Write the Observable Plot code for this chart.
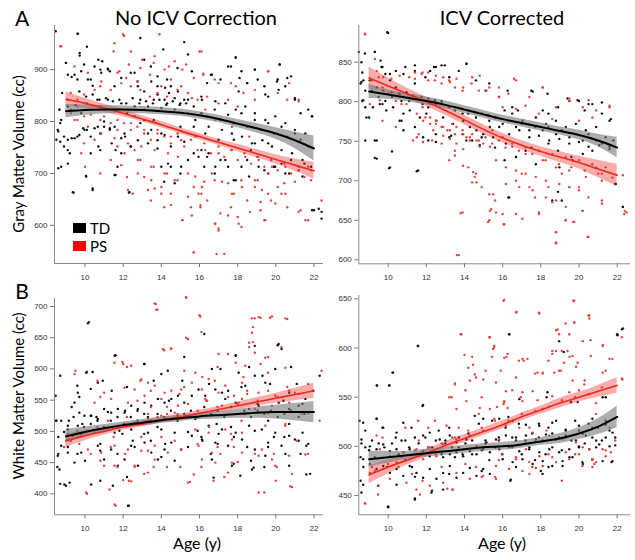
<!DOCTYPE html>
<html><head><meta charset="utf-8">
<script src="https://cdn.jsdelivr.net/npm/d3@7"></script>
<script src="https://cdn.jsdelivr.net/npm/@observablehq/plot@0.6"></script>
<style>
body{margin:0;background:#fff}
#wrap{position:relative;width:635px;height:560px;overflow:hidden;font-family:Lato,"Open Sans",sans-serif;color:#000}
.abs{position:absolute;white-space:nowrap;line-height:1}
.plot{position:absolute}
.rot{transform:translate(-50%,-50%) rotate(-90deg)}
.ctr{transform:translate(-50%,-50%)}
</style></head>
<body><div id="wrap"></div>
<script>
const xTicks = [10,12,14,16,18,20,22];
const gmRawTicks = [600,700,800,900];
const gmIcvTicks = [600,650,700,750,800,850];
const wmRawTicks = [400,450,500,550,600,650,700];
const wmIcvTicks = [450,500,550,600,650];
const fitAges = [9,10,11,12,13,14,15,16,17,18,19,20,21,22];

// Fitted curves and half-widths of confidence bands
const gmRawTDFit  = [820,822,823,823,822,820,817,812,805,796,787,777,764,748];
const gmRawTDHalf = [13,10,8,7,7,7,7,7,7,8,9,11,16,24];
const gmRawPSFit  = [843,835,826,816,805,794,782,771,760,749,738,727,716,705];
const gmRawPSHalf = [14,10,8,7,6,6,6,6,6,7,8,9,12,16];
const gmIcvTDFit  = [813,809,805,801,796,790,784,778,773,768,763,758,751,742];
const gmIcvTDHalf = [9,6,5,5,5,5,5,5,5,5,5,6,8,13];
const gmIcvPSFit  = [830,820,810,800,789,777,765,754,745,737,730,723,715,707];
const gmIcvPSHalf = [14,10,7,6,6,6,6,6,6,6,7,8,11,14];
const wmRawTDFit  = [492,499,505,510,514,518,521,524,526,528,530,531,531,531];
const wmRawTDHalf = [11,8,6,5,5,5,5,5,6,7,9,11,14,17];
const wmRawPSFit  = [485,493,500,507,512,518,523,529,535,541,547,553,559,565];
const wmRawPSHalf = [11,8,6,5,5,5,5,5,5,6,7,8,10,12];
const wmIcvTDFit  = [487,489,491,493,495,497,499,500,502,505,508,513,520,530];
const wmIcvTDHalf = [8,6,4,4,4,4,4,4,4,4,5,6,8,11];
const wmIcvPSFit  = [471,479,486,493,501,508,515,522,530,537,544,550,556,562];
const wmIcvPSHalf = [9,7,5,4,4,4,4,4,4,4,5,5,6,8];

// Individual subjects [age, cc]
const gmRawTD = [[8.46,974],[9.63,969],[9.72,932],[9.72,927],[9.0,913],[9.1,890],[9.3,886],[9.6,881],[10.1,944],[9.95,910],[10.3,881],[10.4,869],[10.7,919],[10.8,900],[10.9,916],[11.2,902],[11.3,897],[8.8,855],[8.65,823],[8.7,797],[8.6,781],[8.5,765],[8.7,761],[8.9,752],[9.1,719],[8.6,710],[9.1,765],[9.3,768],[9.6,771],[9.9,787],[10.1,784],[10.5,787],[10.8,777],[11.0,790],[10.3,739],[10.8,745],[10.7,752],[9.4,663],[10.05,695],[10.4,668],[11.3,787],[11.4,758],[11.6,745],[11.7,713],[11.6,697],[12.3,663],[11.9,739],[12.4,752],[12.1,771],[12.6,810],[12.9,797],[13.1,823],[13.3,777],[13.6,803],[13.8,748],[14.0,713],[14.15,684],[14.5,713],[14.7,681],[15.0,700],[15.4,726],[15.7,739],[16.1,745],[16.25,713],[16.4,732],[16.8,700],[17.1,726],[17.5,713],[17.8,687],[18.2,713],[18.5,726],[18.7,745],[19.05,732],[19.4,706],[19.6,758],[19.9,713],[20.3,719],[20.5,700],[20.8,726],[21.2,706],[21.5,719],[21.85,713],[22.0,629],[22.4,626],[12.9,961],[14.1,939],[15.2,953],[15.4,929],[14.85,903],[13.45,906],[13.1,919],[12.6,894],[12.75,877],[13.8,887],[14.3,881],[13.8,868],[14.2,865],[14.4,855],[14.7,845],[15.4,842],[16.1,848],[16.4,874],[16.6,890],[17.1,881],[17.65,906],[17.9,923],[18.2,897],[18.5,874],[18.9,900],[19.05,881],[19.4,868],[19.6,848],[20.1,881],[20.2,910],[20.5,868],[20.8,887],[21.0,845],[21.3,816],[21.9,810],[21.7,823],[9.1,829],[9.25,823],[9.5,832],[9.8,816],[10.1,835],[10.4,823],[10.65,842],[10.8,829],[11.2,842],[11.5,823],[11.9,835],[12.2,816],[12.6,829],[12.9,842],[13.3,829],[13.6,842],[14.0,826],[14.3,835],[14.7,823],[15.0,835],[15.4,816],[15.7,829],[16.1,816],[16.4,810],[16.8,823],[17.1,803],[17.5,813],[17.8,797],[18.2,816],[18.5,790],[18.9,803],[19.2,784],[19.6,797],[19.9,777],[20.3,790],[20.6,771],[21.0,777],[21.3,765],[21.7,752],[16.3,777],[17.0,765],[17.8,765],[18.9,758],[15.7,790],[15.0,790],[14.0,777],[13.3,758],
[9.6,969],[8.66,823],[8.75,803],[8.57,784],[8.9,771],[9.1,745],[9.2,739],[9.45,768],[9.7,774],[9.97,784],[10.3,771],[10.67,790],[11.0,800],[11.3,784],[11.55,790],[11.9,768],[12.07,777],[12.4,752],[12.77,764],[13.1,803],[13.47,784],[13.8,764],[14.17,774],[14.5,752],[14.87,771],[15.2,761],[9.0,913],[9.45,890],[9.8,897],[10.15,881],[10.5,906],[10.85,894],[11.2,900],[11.55,868],[11.9,884],[12.4,894],[12.77,868],[13.1,858],[13.47,877],[13.8,852],[14.17,842],[14.5,868],[14.87,858],[15.2,842],[9.7,858],[10.06,848],[10.4,852],[10.76,842],[11.1,845],[11.46,839],[11.8,842],[12.16,835],[12.5,845],[12.85,835],[13.2,839],[13.56,835],[13.9,842],[14.26,832],[14.6,839],[14.96,832],[15.3,835],[9.36,664],[10.06,694],[10.4,671],[11.55,697],[12.33,664],[14.35,719],[15.04,713],[8.75,713],
[17.9,924],[20.2,910],[15.6,897],[16.65,890],[17.5,906],[18.1,884],[18.9,900],[20.06,877],[20.6,884],[18.05,858],[18.5,874],[19.45,852],[20.15,861],[21.0,842],[21.9,810],[16.13,842],[16.83,839],[17.35,835],[17.9,823],[18.4,829],[18.9,816],[19.45,803],[19.97,810],[20.5,797],[21.0,784],[21.55,777],[15.78,803],[16.48,790],[17.18,784],[17.7,777],[18.23,771],[18.75,758],[19.3,764],[19.8,752],[20.3,745],[20.85,739],[21.4,726],[15.95,732],[16.48,739],[16.83,713],[17.35,726],[17.9,687],[18.6,694],[19.1,713],[19.6,700],[19.97,713],[20.7,700],[21.4,694],[21.9,629],[22.25,632],[22.4,613]];
const gmRawPS = [[8.7,945],[12.05,965],[13.9,968],[11.5,935],[16.1,935],[11.8,897],[12.3,910],[12.9,903],[13.6,913],[14.4,906],[15.1,900],[15.7,884],[16.2,890],[16.8,881],[17.65,874],[18.3,855],[18.9,842],[19.6,897],[20.1,855],[20.6,842],[21.2,842],[9.25,855],[9.6,842],[9.95,852],[10.5,861],[10.8,868],[11.35,861],[11.9,874],[12.4,868],[12.9,861],[13.4,848],[13.8,855],[14.3,848],[14.85,861],[15.4,855],[15.9,842],[16.4,848],[17.0,835],[17.5,842],[18.0,829],[9.25,816],[9.6,803],[9.95,810],[10.3,813],[10.8,803],[11.35,797],[11.7,784],[12.05,797],[12.4,784],[12.75,790],[13.1,777],[13.45,765],[13.8,784],[14.15,771],[14.5,758],[14.85,777],[15.2,752],[15.55,765],[15.9,745],[16.25,758],[16.6,739],[17.0,752],[17.3,732],[17.65,745],[18.0,726],[18.35,739],[18.7,719],[19.05,732],[19.4,713],[19.75,726],[20.1,706],[20.45,719],[20.8,700],[21.2,713],[21.5,693],[21.85,706],[9.8,739],[10.0,713],[10.8,700],[11.35,726],[11.9,716],[12.2,693],[12.5,661],[13.1,693],[13.3,668],[13.45,648],[14.0,674],[14.15,635],[14.5,661],[14.85,687],[15.1,610],[15.4,655],[15.55,635],[15.7,674],[16.05,635],[16.1,661],[16.25,684],[16.4,648],[16.8,603],[17.0,590],[17.1,623],[15.7,548],[17.3,545],[17.65,635],[17.8,661],[18.0,616],[18.2,597],[18.5,648],[18.9,674],[19.2,629],[19.4,610],[19.75,648],[20.1,674],[20.3,661],[20.6,635],[21.0,684],[21.3,629],[21.7,610],[21.85,687],[22.4,648],[16.8,687],[17.5,681],[18.2,687],[19.05,687],[19.6,700],[20.45,681],[15.4,700],[14.3,700],[13.6,713],[12.9,726],[12.6,745],[11.7,752],[10.5,765],[9.95,758],
[8.75,945],[12.0,968],[11.55,951],[12.4,935],[13.0,919],[13.65,926],[14.17,900],[14.7,916],[15.3,910],[9.45,906],[10.15,894],[10.85,877],[11.7,894],[12.16,884],[12.77,877],[13.4,890],[14.0,868],[14.5,881],[15.04,868],[9.1,842],[9.6,829],[10.3,823],[11.0,810],[11.7,803],[12.4,797],[13.1,784],[13.8,777],[14.5,771],[15.04,764],[9.45,803],[10.15,790],[10.85,777],[11.55,768],[12.25,758],[12.95,752],[13.65,745],[14.35,739],[14.87,732],[12.07,739],[12.77,726],[13.47,713],[14.17,700],[14.7,687],[13.47,687],[12.77,700],[14.0,661],[14.5,639],[15.1,610],[13.65,671],[12.25,668],
[16.0,935],[16.2,892],[15.6,845],[17.0,874],[17.9,868],[18.9,861],[19.6,897],[20.7,874],[21.2,839],[16.3,823],[16.83,803],[17.7,790],[18.6,771],[15.78,771],[16.3,745],[17.0,739],[17.7,745],[18.4,732],[19.1,726],[19.8,713],[20.5,713],[21.2,706],[21.7,713],[15.78,694],[16.13,674],[16.65,700],[17.18,684],[17.7,661],[18.23,674],[18.9,687],[19.27,668],[19.6,661],[19.97,642],[20.5,661],[21.2,626],[21.55,610],[15.95,661],[16.05,639],[15.6,619],[16.83,603],[17.0,594],[17.5,619],[18.05,603],[18.65,626],[19.2,645],[19.45,610],[15.7,548],[16.9,545]];
const gmIcvTD = [[8.46,863],[8.6,850],[8.64,837],[8.7,827],[8.55,823],[8.8,814],[8.64,801],[8.8,793],[9.0,780],[9.95,888],[9.3,863],[9.6,852],[9.7,844],[9.85,835],[10.1,827],[10.4,818],[9.15,814],[9.5,806],[9.85,801],[10.2,806],[10.55,810],[10.7,801],[11.1,801],[11.4,806],[11.8,797],[12.1,793],[12.5,797],[12.8,801],[13.2,793],[13.5,789],[13.9,785],[14.2,785],[14.6,780],[14.9,785],[15.3,776],[15.6,780],[16.0,772],[16.3,776],[16.7,768],[17.0,772],[17.4,764],[17.7,768],[18.1,764],[18.4,768],[18.8,759],[19.1,764],[19.5,755],[19.8,759],[20.2,751],[20.5,759],[20.9,751],[21.2,747],[21.6,743],[21.8,751],[10.9,844],[11.4,839],[11.4,823],[11.95,831],[12.4,844],[12.8,846],[13.2,831],[13.7,839],[14.1,848],[14.6,827],[15.1,814],[15.3,823],[15.8,806],[16.1,789],[16.5,793],[16.8,789],[17.5,814],[18.1,789],[18.4,785],[18.9,793],[19.5,801],[20.0,801],[20.3,789],[20.7,797],[21.2,785],[21.6,776],[12.5,759],[13.2,755],[13.9,759],[14.4,751],[14.9,755],[15.6,742],[16.1,726],[16.7,730],[16.3,679],[17.5,742],[18.4,747],[18.9,738],[19.6,730],[20.2,734],[20.7,738],[21.9,696],[22.3,667],[8.8,751],[9.3,751],[9.3,729],[10.2,737],[10.05,716],[11.5,712],[12.1,751],[10.7,776],[11.4,768],[9.7,797],[19.1,675],
[10.0,887],[8.78,861],[9.3,863],[9.65,844],[10.09,835],[10.4,839],[10.8,835],[11.4,846],[12.2,839],[12.5,844],[12.97,846],[14.1,848],[8.6,825],[9.04,827],[9.4,818],[9.74,814],[10.17,812],[10.6,810],[10.96,812],[11.3,808],[11.75,806],[12.1,804],[12.45,802],[12.8,800],[13.14,795],[13.5,793],[13.84,791],[14.2,789],[14.54,787],[14.9,785],[15.24,783],[8.69,802],[9.2,793],[9.56,797],[9.9,789],[10.26,793],[10.8,785],[11.13,789],[11.66,780],[12.0,785],[12.53,776],[12.88,780],[13.4,772],[13.93,776],[14.28,768],[14.63,764],[14.98,759],[15.33,768],[8.86,780],[9.4,751],[9.4,728],[10.09,717],[10.6,776],[10.8,764],[11.57,713],[11.83,755],[12.5,749],[13.3,757],[14.1,751],[14.8,745],[15.5,755],
[16.26,814],[17.57,813],[18.35,810],[19.4,804],[19.93,802],[20.5,797],[21.2,799],[21.67,778],[15.65,780],[16.5,785],[17.04,776],[17.74,780],[18.27,772],[18.79,776],[19.31,768],[19.84,772],[20.36,764],[20.9,768],[21.4,755],[15.82,768],[16.34,759],[16.87,764],[17.4,755],[17.9,757],[18.44,751],[18.97,753],[19.49,747],[20.0,749],[20.5,743],[21.06,745],[21.6,740],[16.17,747],[16.7,730],[17.2,738],[17.74,721],[18.97,717],[19.66,726],[16.34,679],[18.6,675],[18.9,686],[21.93,696],[22.3,667]];
const gmIcvPS = [[8.8,886],[9.3,854],[9.5,831],[9.15,827],[9.7,818],[10.0,810],[10.4,801],[10.7,797],[11.1,831],[11.4,837],[11.8,837],[12.1,827],[12.5,833],[12.8,823],[13.2,827],[13.5,818],[13.9,814],[14.4,831],[14.75,814],[15.3,818],[15.8,818],[16.3,810],[16.7,827],[17.4,806],[18.1,818],[18.8,793],[19.5,801],[20.2,793],[20.9,789],[21.6,793],[11.8,793],[11.95,780],[12.2,772],[12.5,776],[12.8,768],[13.1,764],[13.35,772],[13.5,759],[13.9,764],[14.1,755],[14.4,759],[14.75,751],[15.1,755],[15.45,747],[15.8,751],[16.15,742],[16.5,747],[16.85,738],[17.2,742],[17.55,734],[17.9,738],[18.25,726],[18.6,734],[18.95,721],[19.3,730],[19.6,717],[20.0,726],[20.3,713],[20.7,721],[21.0,709],[21.4,717],[21.75,704],[14.2,717],[14.6,709],[14.4,698],[14.9,692],[15.3,683],[15.4,664],[15.3,650],[15.6,675],[16.0,658],[16.05,645],[16.7,700],[17.0,709],[17.4,692],[17.7,679],[17.9,658],[18.4,692],[18.8,675],[18.8,635],[18.8,621],[19.1,709],[19.5,692],[19.3,650],[19.7,648],[20.0,692],[20.2,662],[20.5,629],[20.9,717],[21.2,675],[21.2,709],[13.9,660],[13.7,606],[12.8,747],[13.5,738],[13.2,726],[12.3,751],[11.3,751],[11.6,759],[10.4,768],[9.7,776],[22.3,707],[22.4,662],[22.5,660],
[8.78,885],[9.4,839],[9.74,831],[10.17,829],[10.6,833],[11.4,829],[11.75,835],[12.1,837],[12.45,827],[12.88,831],[13.23,825],[13.58,829],[13.93,818],[14.37,823],[14.8,833],[15.15,814],[9.04,797],[9.56,802],[10.96,797],[11.5,785],[11.83,776],[12.2,780],[12.5,772],[12.88,768],[13.23,764],[13.58,768],[13.93,759],[14.28,755],[14.63,751],[14.98,747],[15.33,743],[11.5,755],[11.83,749],[12.36,764],[12.88,757],[13.23,753],[13.58,747],[13.93,740],[14.28,751],[14.8,743],[13.5,732],[13.93,719],[14.45,711],[14.54,705],[14.63,698],[15.5,683],[15.33,662],[15.24,648],[13.8,659],[13.6,606],
[16.6,829],[18.1,818],[19.49,804],[20.5,802],[21.6,795],[15.82,806],[16.0,793],[16.7,791],[17.2,795],[17.9,785],[18.6,778],[20.0,776],[20.7,780],[15.47,764],[16.0,755],[16.5,743],[17.2,734],[18.1,726],[18.8,717],[19.49,713],[20.36,705],[21.2,700],[15.65,726],[16.17,717],[16.7,713],[17.2,709],[17.74,705],[18.27,700],[18.97,696],[19.49,692],[20.0,688],[20.5,679],[16.17,696],[16.87,692],[17.57,688],[18.27,679],[18.6,673],[19.31,667],[20.18,662],[15.65,660],[16.08,645],[16.7,658],[17.04,652],[17.9,660],[18.79,635],[18.79,622],[19.31,650],[19.75,648],[20.45,629],[21.2,671],[22.37,658]];
const wmRawTD = [[8.46,557],[8.7,589],[8.5,517],[8.6,491],[8.6,464],[8.55,443],[8.7,416],[9.0,413],[9.1,475],[8.9,499],[9.15,517],[9.3,539],[9.6,573],[9.7,555],[9.86,512],[9.8,496],[9.6,464],[10.0,453],[10.1,595],[10.2,675],[10.3,525],[10.6,523],[10.8,480],[10.8,421],[11.2,531],[11.4,565],[11.6,622],[11.8,501],[11.96,496],[12.1,533],[12.2,571],[12.3,381],[12.2,427],[12.5,485],[12.75,533],[13.1,608],[13.1,496],[13.3,523],[13.6,581],[13.8,507],[14.0,592],[14.2,480],[14.4,549],[14.7,453],[14.85,525],[15.1,581],[15.2,619],[15.4,499],[15.6,557],[15.9,501],[16.15,485],[16.25,656],[16.5,576],[16.6,464],[16.9,512],[17.0,496],[17.1,600],[17.5,565],[17.65,507],[17.8,448],[17.9,622],[18.2,571],[18.35,528],[18.5,475],[18.6,603],[18.9,501],[19.05,544],[19.3,589],[19.4,443],[19.6,517],[19.7,576],[19.9,491],[20.1,638],[20.4,549],[20.5,464],[20.7,512],[20.8,603],[21.1,576],[21.2,485],[21.4,544],[21.7,480],[21.8,432],[21.95,565],[22.3,589],[9.1,509],[9.4,523],[9.95,507],[10.3,512],[10.65,517],[11.0,507],[11.35,517],[11.7,523],[12.05,512],[12.4,523],[12.75,517],[13.1,528],[13.45,517],[13.8,528],[14.15,523],[14.5,533],[14.85,517],[15.2,528],[15.55,533],[15.9,523],[16.25,539],[16.6,528],[16.95,533],[17.3,523],[17.65,539],[18.0,528],[18.35,533],[18.7,523],[19.05,533],[19.4,528],[19.75,533],[20.1,523],[20.45,528],[20.8,533],[21.2,523],[21.5,528],[10.8,469],[11.7,464],[12.6,475],[13.45,485],[14.0,459],[15.4,475],[16.1,491],[16.95,480],[17.8,491],[18.7,453],[19.6,475],[20.45,491],[21.3,464],
[10.15,673],[8.49,517],[8.75,517],[8.57,461],[8.66,439],[8.92,415],[9.19,418],[9.1,503],[9.36,493],[9.62,509],[9.7,530],[9.62,562],[10.06,594],[10.4,595],[10.67,578],[10.93,581],[10.3,568],[9.45,546],[9.97,525],[10.32,525],[10.67,520],[11.0,536],[11.37,530],[11.72,536],[12.07,530],[12.42,541],[12.77,536],[13.12,546],[13.47,541],[13.82,552],[14.17,546],[14.52,552],[14.87,557],[15.2,546],[11.55,621],[13.12,608],[14.34,597],[8.75,477],[9.1,466],[9.45,450],[9.8,466],[10.32,415],[10.67,477],[11.0,455],[11.37,471],[11.72,445],[12.07,455],[12.42,477],[12.77,445],[13.12,482],[13.47,466],[13.82,455],[14.17,471],[14.52,482],[15.04,471],[11.46,413],[12.25,381],[11.55,498],[12.42,503],[13.3,498],[14.0,503],[14.7,498],
[20.15,640],[20.3,632],[17.9,621],[18.9,637],[18.05,594],[18.9,589],[19.97,600],[16.65,600],[17.18,562],[18.4,573],[19.45,578],[20.7,562],[21.55,552],[15.95,567],[16.3,557],[16.83,567],[17.35,552],[17.9,546],[18.6,536],[19.1,541],[19.6,530],[20.15,546],[20.7,536],[21.2,541],[21.7,530],[15.78,520],[16.48,509],[17.18,503],[17.9,498],[18.6,509],[19.27,503],[19.97,498],[20.7,493],[21.4,498],[15.6,493],[16.13,487],[16.83,482],[17.5,477],[18.23,487],[18.9,471],[19.6,482],[20.3,477],[21.0,487],[21.6,477],[16.65,455],[17.7,445],[18.75,439],[19.45,461],[20.7,445],[21.6,431],[18.14,429],[16.74,426],[18.84,442]];
const wmRawPS = [[8.9,475],[9.25,485],[9.5,597],[9.7,480],[10.1,400],[10.3,464],[10.65,581],[10.8,555],[11.2,507],[11.35,475],[11.5,491],[11.6,381],[11.7,443],[11.96,611],[12.1,464],[12.3,421],[12.5,512],[12.75,549],[12.95,491],[13.1,432],[13.3,469],[13.45,539],[13.6,443],[13.7,704],[13.8,695],[14.0,491],[14.15,630],[14.3,528],[14.5,632],[14.7,485],[14.95,560],[15.0,443],[15.2,597],[15.3,715],[15.4,648],[15.5,419],[15.6,523],[15.9,480],[16.0,686],[16.1,659],[16.15,587],[16.35,549],[16.5,507],[16.8,581],[16.95,475],[17.1,464],[17.3,427],[17.5,624],[17.65,496],[17.8,557],[18.0,451],[18.2,517],[18.3,587],[18.5,565],[18.6,635],[18.8,643],[18.8,667],[18.9,681],[19.1,683],[19.2,608],[19.4,402],[19.6,619],[19.8,684],[19.9,464],[20.05,443],[20.3,635],[20.5,512],[20.6,680],[20.7,565],[20.85,432],[20.85,411],[21.1,485],[21.35,528],[21.7,464],[22.3,517],[22.4,597],[9.1,496],[9.6,501],[10.1,501],[10.65,507],[11.2,517],[11.7,507],[12.2,523],[12.75,512],[13.3,528],[13.8,523],[14.3,539],[14.85,528],[15.4,544],[15.9,533],[16.4,549],[16.95,539],[17.5,555],[18.0,544],[18.5,560],[19.05,549],[19.6,565],[20.1,555],[20.6,571],[21.2,560],[21.7,576],[10.8,453],[12.6,443],[14.3,443],[16.1,443],[17.8,475],[18.9,464],[20.0,421],[13.45,565],[15.2,571],[16.95,603],[12.9,581],[12.2,603],
[13.65,705],[13.73,695],[15.3,714],[15.3,650],[14.08,632],[14.52,633],[11.55,610],[12.42,605],[12.0,608],[9.45,592],[11.0,562],[12.07,570],[12.6,567],[12.95,583],[13.3,578],[13.65,573],[14.17,562],[14.52,565],[15.04,567],[10.5,546],[11.37,552],[12.25,546],[13.12,557],[14.0,552],[14.87,541],[9.1,487],[9.8,493],[10.5,498],[11.2,503],[11.9,509],[12.6,514],[13.3,520],[14.0,525],[14.7,530],[10.15,471],[10.85,466],[11.55,477],[12.25,471],[12.95,469],[13.65,477],[14.34,466],[15.04,471],[11.0,445],[11.55,445],[12.6,445],[13.3,434],[13.65,455],[10.06,402],[11.28,407],[11.55,383],[12.0,422],[12.42,420],[15.4,418],
[16.04,684],[18.75,681],[19.2,682],[19.7,682],[20.5,681],[18.75,658],[18.6,642],[18.9,626],[19.45,618],[17.0,624],[17.9,610],[18.4,605],[15.78,594],[16.48,584],[17.35,573],[18.23,578],[19.6,594],[20.5,602],[15.6,578],[16.13,567],[17.0,562],[18.23,552],[19.1,562],[19.97,557],[21.0,562],[16.3,552],[17.18,541],[18.05,546],[18.9,536],[19.8,541],[20.7,546],[15.78,503],[16.48,498],[17.35,503],[18.23,498],[19.45,509],[20.5,509],[15.95,477],[16.65,466],[17.7,487],[18.23,466],[19.27,471],[19.8,455],[16.13,455],[16.83,450],[17.7,450],[19.1,461],[19.97,445],[20.7,461],[15.7,431],[16.74,421],[17.5,434],[19.1,402],[20.76,412],[21.55,463]];
const wmIcvTD = [[8.5,526],[8.6,503],[8.55,489],[8.7,479],[8.55,465],[8.6,453],[8.8,516],[9.0,496],[9.15,506],[9.3,489],[9.4,528],[9.4,562],[9.7,519],[9.8,499],[9.95,479],[10.0,438],[10.07,562],[10.25,575],[10.4,509],[10.55,492],[10.7,506],[10.9,486],[11.1,499],[11.25,479],[11.4,509],[11.4,447],[11.55,602],[11.8,541],[11.8,492],[11.95,509],[12.1,499],[12.3,455],[12.5,506],[12.65,516],[12.8,492],[13.0,506],[13.2,519],[13.35,499],[13.5,489],[13.7,509],[13.9,492],[14.05,503],[14.2,513],[14.4,492],[14.6,499],[14.75,523],[14.9,496],[15.1,506],[15.3,486],[15.45,526],[15.6,499],[15.8,509],[15.97,492],[16.15,519],[16.3,530],[16.35,614],[16.4,465],[16.5,499],[16.7,509],[16.85,523],[17.0,492],[17.2,506],[17.4,499],[17.55,513],[17.7,486],[17.9,523],[18.1,506],[18.25,492],[18.3,550],[18.4,519],[18.6,499],[18.8,526],[18.95,509],[19.1,496],[19.2,596],[19.3,516],[19.5,489],[19.6,506],[19.8,526],[20.0,499],[20.2,513],[20.3,503],[20.5,523],[20.7,509],[20.9,499],[21.0,519],[21.2,506],[21.4,550],[21.6,516],[21.7,484],[21.9,509],[22.0,614],[22.25,619],[21.9,501],[8.8,499],[9.5,503],[10.2,503],[10.9,506],[11.6,503],[12.3,499],[13.0,503],[13.7,499],[14.4,506],[15.1,503],[15.8,506],[16.5,509],[17.2,503],[17.9,509],[18.6,513],[19.3,509],[20.0,516],[20.7,519],[21.4,526],[11.4,469],[13.2,472],[14.9,475],[16.7,479],[18.4,479],[20.2,482],
[11.57,602],[10.23,575],[9.42,562],[10.05,562],[11.83,542],[8.69,524],[9.39,528],[9.74,519],[10.44,514],[10.79,524],[11.22,519],[11.83,511],[12.18,514],[12.7,507],[13.23,511],[13.58,504],[14.1,507],[14.63,500],[15.15,504],[8.6,507],[9.04,500],[9.39,497],[9.74,502],[10.09,495],[10.44,497],[10.79,494],[11.13,497],[11.48,492],[11.83,495],[12.18,490],[12.53,494],[12.88,489],[13.23,492],[13.58,494],[13.93,490],[14.28,495],[14.63,492],[14.98,497],[15.33,494],[8.69,487],[9.04,482],[9.39,477],[9.74,480],[10.09,473],[10.44,477],[10.79,470],[11.13,480],[11.48,473],[11.83,468],[12.18,477],[12.53,467],[12.88,473],[13.23,480],[13.58,468],[13.93,473],[14.28,478],[14.63,470],[14.98,477],[15.33,472],[8.69,461],[9.47,460],[10.44,461],[11.4,446],[12.27,453],[12.88,456],[10.0,439],[14.54,531],[14.98,528],
[16.34,614],[18.96,607],[22.02,613],[22.3,620],[18.35,555],[19.58,545],[19.93,545],[21.24,550],[16.87,548],[15.82,528],[16.52,526],[17.22,522],[17.92,521],[18.6,524],[19.31,517],[20.0,521],[20.7,528],[21.4,522],[21.76,514],[15.65,507],[16.17,511],[16.7,506],[17.22,511],[17.74,507],[18.27,512],[18.8,507],[19.31,511],[19.84,506],[20.36,511],[20.9,506],[21.4,509],[15.82,497],[16.34,499],[16.87,495],[17.39,497],[17.92,494],[18.44,497],[18.96,494],[19.49,497],[20.0,500],[20.54,497],[21.06,502],[21.6,500],[16.0,487],[16.52,484],[17.04,487],[17.57,482],[18.1,485],[18.6,480],[19.14,485],[19.66,489],[20.18,484],[20.7,487],[21.24,485],[21.76,485],[18.0,475],[18.09,472],[19.14,480],[16.43,466]];
const wmIcvPS = [[8.8,442],[9.5,460],[9.15,479],[9.7,509],[10.2,489],[10.55,479],[10.9,519],[11.25,472],[11.6,506],[11.8,465],[12.1,519],[12.5,492],[12.8,479],[13.1,457],[13.35,456],[13.2,550],[13.35,509],[13.5,564],[13.7,519],[13.8,614],[14.05,557],[14.2,580],[14.4,591],[14.6,570],[14.75,533],[14.9,550],[15.1,577],[15.3,611],[15.45,591],[15.55,601],[15.7,540],[15.9,577],[16.05,648],[16.05,543],[16.2,591],[16.5,557],[16.7,636],[16.85,587],[16.95,550],[17.1,587],[17.4,519],[17.7,574],[17.9,636],[18.1,574],[18.3,516],[18.4,587],[18.6,597],[18.8,618],[18.95,577],[19.1,597],[19.3,625],[19.5,591],[19.7,648],[19.75,626],[19.85,581],[20.0,557],[20.2,499],[20.3,567],[20.5,633],[20.6,608],[20.7,486],[20.9,533],[21.25,603],[21.4,577],[21.6,519],[21.75,589],[22.25,611],[22.25,569],[9.3,475],[10.0,482],[10.7,489],[11.4,496],[12.1,499],[12.8,503],[13.5,509],[14.2,516],[14.9,519],[15.6,526],[16.3,526],[17.0,533],[17.7,536],[18.4,540],[19.1,547],[19.8,550],[20.5,553],[21.2,560],[14.05,482],[14.9,469],[15.8,486],[16.7,489],[17.55,479],[18.4,492],[19.1,465],[19.8,492],[20.7,479],[21.4,496],[21.9,506],[15.6,469],[14.6,479],[17.4,472],
[13.84,614],[14.0,593],[15.33,611],[15.5,599],[14.45,583],[14.54,573],[13.5,563],[14.28,567],[14.98,568],[13.32,550],[13.58,538],[14.1,546],[14.8,539],[15.33,538],[11.57,526],[12.45,526],[13.06,521],[9.39,511],[9.56,497],[10.09,490],[10.79,494],[11.48,497],[12.18,499],[12.88,502],[13.58,507],[14.28,511],[14.98,516],[9.04,473],[9.74,477],[10.44,484],[11.13,487],[11.83,487],[12.53,490],[13.23,495],[13.93,497],[14.63,500],[10.09,467],[10.96,463],[11.48,456],[12.18,460],[12.88,463],[13.58,473],[14.28,467],[14.98,470],[9.47,451],[11.66,451],[8.78,442],[13.4,456],
[16.08,649],[19.75,648],[16.73,637],[17.92,635],[20.54,633],[20.54,630],[19.75,626],[18.88,619],[18.96,614],[19.49,614],[20.2,607],[21.24,602],[15.56,602],[18.79,597],[19.4,597],[19.66,592],[18.6,594],[16.26,594],[16.08,590],[17.04,589],[17.3,589],[19.22,585],[19.93,585],[20.62,592],[21.6,589],[17.83,575],[18.1,575],[18.7,575],[19.05,577],[21.24,575],[22.28,568],[16.7,570],[19.66,567],[15.65,565],[20.28,563],[16.17,556],[17.04,555],[17.57,556],[18.6,551],[19.49,555],[16.08,546],[16.08,545],[17.04,546],[17.83,547],[16.26,539],[18.09,538],[20.9,544],[15.56,528],[16.17,521],[16.87,519],[17.57,514],[18.44,511],[19.14,507],[19.84,504],[20.54,497],[21.24,497],[21.67,494],[15.82,507],[16.52,500],[17.22,497],[17.92,490],[18.6,489],[19.31,494],[20.0,492],[20.7,487],[21.4,490],[16.0,492],[16.7,487],[17.39,484],[18.1,480],[18.8,484],[19.49,487],[20.18,480],[20.9,484],[15.65,480],[16.34,477],[17.04,475],[17.74,478],[20.8,482],[15.65,467]];

const wrap = document.getElementById("wrap");

function rows(fit, half) {
  return fitAges.map((a, i) => ({age: a, fit: fit[i], lo: fit[i] - half[i], hi: fit[i] + half[i]}));
}

function panel(o) {
  const td = rows(o.tdFit, o.tdHalf), ps = rows(o.psFit, o.psHalf);
  const svg = Plot.plot({
    width: o.w, height: o.h,
    marginLeft: o.ml, marginRight: o.mr, marginTop: o.mt, marginBottom: o.mb,
    x: {domain: o.xDom},
    y: {domain: o.yDom},
    style: {fontFamily: "'Liberation Sans', Arial, sans-serif", fontSize: "8px", background: "transparent", overflow: "visible", color: "#333"},
    marks: [
      Plot.dot(o.tdPts, {x: d => d[0], y: d => d[1], r: 1.2, fill: "#111", stroke: "none"}),
      Plot.dot(o.psPts, {x: d => d[0], y: d => d[1], r: 1.2, fill: "#e2453d", stroke: "none"}),
      Plot.areaY(ps, {x: "age", y1: "lo", y2: "hi", fill: "#ee3333", fillOpacity: 0.4, curve: "natural"}),
      Plot.areaY(td, {x: "age", y1: "lo", y2: "hi", fill: "#7a7a7a", fillOpacity: 0.62, curve: "natural"}),
      Plot.line(ps, {x: "age", y: "fit", stroke: "#ea2a1c", strokeWidth: 1.6, curve: "natural"}),
      Plot.line(td, {x: "age", y: "fit", stroke: "#000", strokeWidth: 2, curve: "natural"}),
      Plot.ruleY([o.yDom[0]], {stroke: "#8a8a8a", strokeWidth: 1}),
      Plot.ruleX([o.xDom[0]], {stroke: "#8a8a8a", strokeWidth: 1}),
      Plot.axisX({ticks: xTicks, tickSize: 4, tickPadding: 7, label: null, stroke: "#777", fill: "#333"}),
      Plot.axisY({ticks: o.yTicks, tickSize: 4, tickPadding: 3, label: null, stroke: "#777", fill: "#333"})
    ]
  });
  svg.classList.add("plot");
  svg.style.left = o.left + "px";
  svg.style.top = o.top + "px";
  wrap.appendChild(svg);
}

panel({left: 0, top: 0, w: 325, h: 290, ml: 54, mr: 2, mt: 25, mb: 27,
  xDom: [8.4, 22.5], yDom: [526.5, 985], yTicks: gmRawTicks,
  tdPts: gmRawTD, psPts: gmRawPS, tdFit: gmRawTDFit, tdHalf: gmRawTDHalf, psFit: gmRawPSFit, psHalf: gmRawPSHalf});
panel({left: 315, top: 0, w: 320, h: 290, ml: 43.3, mr: 5, mt: 25, mb: 26.7,
  xDom: [8.46, 22.7], yDom: [595, 896.4], yTicks: gmIcvTicks,
  tdPts: gmIcvTD, psPts: gmIcvPS, tdFit: gmIcvTDFit, tdHalf: gmIcvTDHalf, psFit: gmIcvPSFit, psHalf: gmIcvPSHalf});
panel({left: 0, top: 280, w: 325, h: 280, ml: 54, mr: 2, mt: 18, mb: 45.7,
  xDom: [8.4, 22.5], yDom: [366.4, 712.8], yTicks: wmRawTicks,
  tdPts: wmRawTD, psPts: wmRawPS, tdFit: wmRawTDFit, tdHalf: wmRawTDHalf, psFit: wmRawPSFit, psHalf: wmRawPSHalf});
panel({left: 315, top: 280, w: 320, h: 280, ml: 43.3, mr: 5, mt: 15, mb: 45.7,
  xDom: [8.46, 22.7], yDom: [430.4, 653.4], yTicks: wmIcvTicks,
  tdPts: wmIcvTD, psPts: wmIcvPS, tdFit: wmIcvTDFit, tdHalf: wmIcvTDHalf, psFit: wmIcvPSFit, psHalf: wmIcvPSHalf});

function label(text, x, y, size, cls) {
  const d = document.createElement("div");
  d.className = "abs " + cls;
  d.textContent = text;
  d.style.left = x + "px";
  d.style.top = y + "px";
  d.style.fontSize = size + "px";
  wrap.appendChild(d);
  return d;
}
label("A", 22, 17, 21, "ctr");
label("B", 22, 290, 21, "ctr");
label("No ICV Correction", 196, 17, 20, "ctr");
label("ICV Corrected", 502, 17, 20, "ctr");
label("Gray Matter Volume (cc)", 18, 154, 15, "rot");
label("White Matter Volume (cc)", 18, 396, 15, "rot");
label("Age (y)", 197, 543, 16, "ctr");
label("Age (y)", 502, 543, 16, "ctr");

// legend
const legendItems = [["TD", "#000"], ["PS", "#f00"]];
legendItems.forEach(([name, col], i) => {
  const sw = document.createElement("div");
  sw.className = "abs";
  Object.assign(sw.style, {left: "73px", top: (223 + i * 18) + "px", width: "13px", height: "10px", background: col});
  wrap.appendChild(sw);
  label(name, 90, 222 + i * 18, 15, "").style.lineHeight = "12px";
});
</script></body></html>
